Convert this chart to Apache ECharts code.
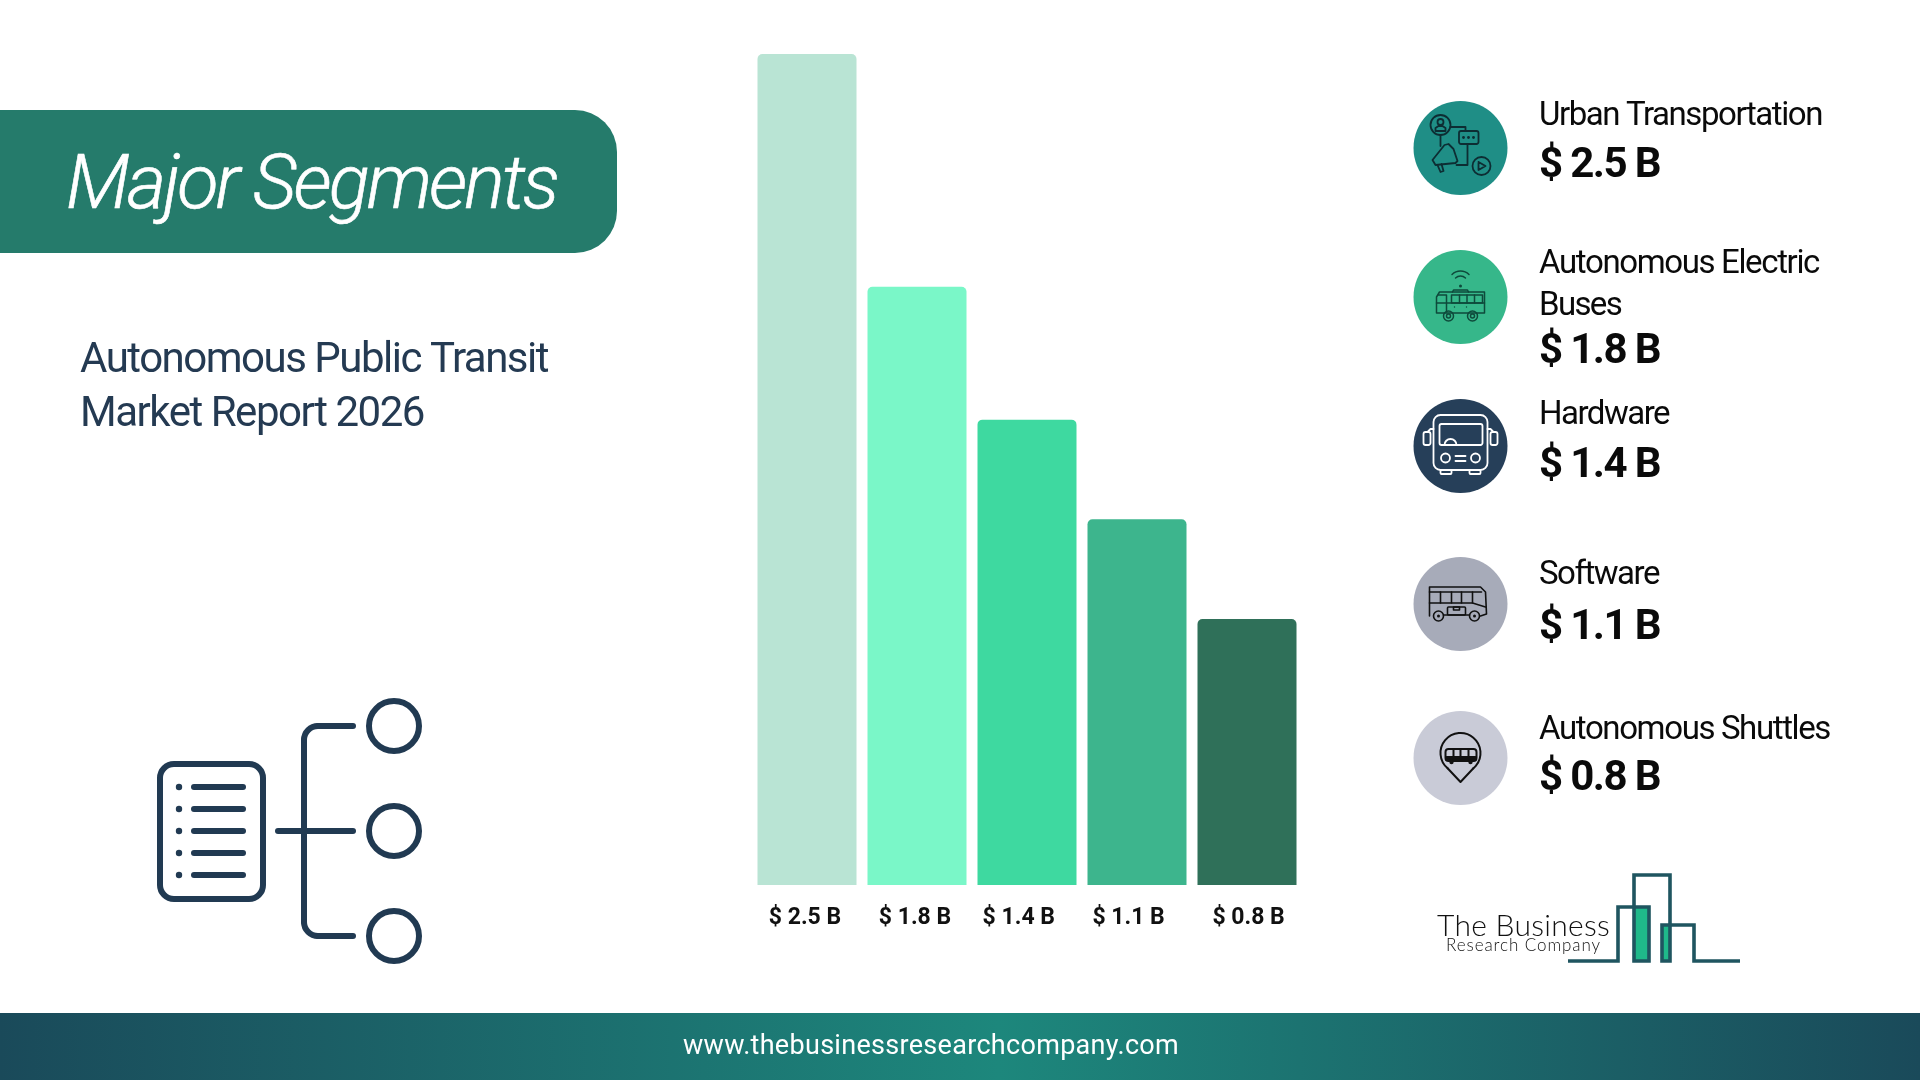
<!DOCTYPE html>
<html>
<head>
<meta charset="utf-8">
<style>html,body{margin:0;padding:0;background:#fff}#c{width:1920px;height:1080px}</style>
<script src="https://cdn.jsdelivr.net/npm/echarts@6/dist/echarts.min.js"></script>
</head>
<body>
<div id="c"></div>
<script>
const categories = ['Urban Transportation', 'Autonomous Electric Buses', 'Hardware', 'Software', 'Autonomous Shuttles'];
const values = [2.5, 1.8, 1.4, 1.1, 0.8];
const titleText = 'Major Segments';
const subtitleLines = ['Autonomous Public Transit', 'Market Report 2026'];
const footerText = 'www.thebusinessresearchcompany.com';
const logoLines = ['The Business', 'Research Company'];

const barColors = ['#B9E4D4', '#7AF7C8', '#3ED9A0', '#3DB58D', '#2F7059'];
const labelShift = [-2, -2, -8.2, -8.4, 1.6];
const circleColors = ['#1F8E86', '#36B78A', '#263F59', '#A7ABB9', '#C9CBD7'];
const circleY = [148, 297, 446, 604, 758];
const nameLayout = [
  [{ t: 'Urban Transportation', b: 124, w: 283 }],
  [{ t: 'Autonomous Electric', b: 272, w: 280 }, { t: 'Buses', b: 314, w: 82 }],
  [{ t: 'Hardware', b: 423, w: 130 }],
  [{ t: 'Software', b: 583, w: 120 }],
  [{ t: 'Autonomous Shuttles', b: 738, w: 291 }]
];
const valueBaseline = [176, 362, 476, 638, 789];

const money = v => '$ ' + v.toFixed(1) + ' B';

// tight tracking of the reference: canvas letter spacing, fitted to the measured width of each text
const mctx = document.createElement('canvas').getContext('2d');
const tracking = {};
['fillText', 'strokeText'].forEach(fn => {
  const orig = CanvasRenderingContext2D.prototype[fn];
  CanvasRenderingContext2D.prototype[fn] = function (t, x, y, m) {
    const sp = tracking[t + '|' + this.font];
    if (sp !== undefined) this.letterSpacing = sp + 'px';
    const r = m === undefined ? orig.call(this, t, x, y) : orig.call(this, t, x, y, m);
    if (sp !== undefined) this.letterSpacing = '0px';
    return r;
  };
});
function txt(text, x, baseline, sizePx, font, fill, targetW, extra) {
  mctx.font = font;
  const natural = mctx.measureText(text).width;
  tracking[text + '|' + mctx.font] = (targetW - natural) / text.length;
  return {
    type: 'text', x, y: baseline - 0.22 * sizePx, z: 10, silent: true,
    style: Object.assign({ text, x: 0, y: 0, font, fill, textAlign: 'left', verticalAlign: 'middle' }, extra || {})
  };
}
function shapes(list, stroke, lw) {
  const s = (fill) => ({ stroke: fill ? null : stroke, lineWidth: lw, fill: fill ? stroke : 'none', lineCap: 'round', lineJoin: 'round' });
  const out = [];
  list.forEach(d => {
    const k = d[0];
    if (k === 'c' || k === 'C') out.push({ type: 'circle', z: 6, silent: true, shape: { cx: d[1], cy: d[2], r: d[3] }, style: s(k === 'C') });
    if (k === 'r' || k === 'R') out.push({ type: 'rect', z: 6, silent: true, shape: { x: d[1], y: d[2], width: d[3], height: d[4], r: d[5] || 0 }, style: s(k === 'R') });
    if (k === 'l') {
      const pts = []; for (let i = 1; i < d.length; i += 2) pts.push([d[i], d[i + 1]]);
      out.push({ type: 'polyline', z: 6, silent: true, shape: { points: pts }, style: s(false) });
    }
    if (k === 'a') out.push({ type: 'arc', z: 6, silent: true, shape: { cx: d[1], cy: d[2], r: d[3], startAngle: d[4] * Math.PI / 180, endAngle: d[5] * Math.PI / 180, clockwise: true }, style: s(false) });
  });
  return out;
}
const iconDefs = [
  { stroke: '#0D2D33', lw: 1.8, items: [
    ['c', -20, -23, 10], ['c', -20, -26, 3], ['l', -25, -17, -25, -20, -22, -22, -18, -22, -15, -20, -15, -17, -25, -17],
    ['l', -10, -21, 5, -21, 5, -17], ['r', -1.5, -17, 19.5, 13, 2], ['C', 3, -10.5, 1.4], ['C', 8, -10.5, 1.4], ['C', 13, -10.5, 1.4],
    ['l', -20, -13, -20, -2], ['l', -28, 12, -16, -3, -12, -4, -7, 1, -3, 13, -5, 15, -25, 17, -28, 12],
    ['l', -23, 17, -20, 24, -17, 23, -19, 16], ['l', -4, 17, 7, 17, 7, -4],
    ['c', 21, 18, 9], ['l', 18, 14, 25, 18, 18, 22, 18, 14]
  ] },
  { stroke: '#0E4A3B', lw: 1.5, items: [
    ['a', 0, -14, 12, 225, 315], ['a', 0, -14, 7, 225, 315], ['C', 0, -11, 1.5], ['l', -8, -5, -7, -7, 7, -7, 8, -5],
    ['l', -24, 13, -24, 0, -21, -5, 24, -5, 24, 16, -24, 16, -24, 13], ['r', -9, -2, 31, 8, 0], ['l', -1, -2, -1, 6], ['l', 6.5, -2, 6.5, 6], ['l', 14, -2, 14, 6],
    ['l', -22, -2, -14, -2, -14, 15], ['l', -24, 6, 24, 6], ['C', -6, 10, 0.7], ['C', 6, 10, 0.7], ['c', -12, 19, 5], ['c', 12, 19, 5], ['c', -12, 19, 2], ['c', 12, 19, 2]
  ] },
  { stroke: '#FFFFFF', lw: 1.8, items: [
    ['r', -27, -31, 54, 55, 7], ['r', -21, -22, 43, 21, 2], ['a', -10, -1, 6, 180, 360],
    ['c', -15, 12, 4.5], ['c', 15, 12, 4.5], ['l', -5, 10, 5, 10], ['l', -5, 15, 5, 15],
    ['r', -37, -14, 7, 13, 2], ['r', 30, -14, 7, 13, 2], ['r', -20, 24, 11, 4, 1], ['r', 9, 24, 11, 4, 1],
    ['l', -27, -17, -30, -17, -33, -14], ['l', 27, -17, 30, -17, 33, -14]
  ] },
  { stroke: '#111111', lw: 1.6, items: [
    ['l', -31, 12, -31, -17, 20, -17, 25, -12, 26, 10, 20, 12], ['l', -31, -12, 21, -12], ['l', -31, -1, 12, -1, 25, 3],
    ['l', -20, -12, -20, -1], ['l', -9, -12, -9, -1], ['l', 1, -12, 1, -1], ['l', 12, -12, 12, -1],
    ['c', -22, 12, 5], ['c', 14, 12, 5], ['C', -22, 12, 1.5], ['C', 14, 12, 1.5], ['r', -13, 3, 18, 8, 1], ['r', -7, 3, 6, 3, 0],
    ['l', -17, 11, 9, 11]
  ] },
  { stroke: '#111111', lw: 2, items: [
    ['a', 0, -5, 20, 130, 410], ['l', 12.9, 10.3, 0, 24, -12.9, 10.3],
    ['r', -15, -9, 31, 12, 3], ['R', -15, -2, 31, 5, 1], ['l', -7, -9, -7, -2], ['l', 0, -9, 0, -2], ['l', 8, -9, 8, -2],
    ['C', -9, 4, 2.2], ['C', 10, 4, 2.2]
  ] }
];

const graphics = [];
// header
graphics.push({ type: 'rect', z: 1, silent: true, shape: { x: 0, y: 110, width: 617, height: 143, r: [0, 42, 42, 0] }, style: { fill: '#257B6B' } });
graphics.push(txt(titleText, 66, 205.5, 76, 'italic 300 76px Roboto', '#FFFFFF', 491, { stroke: '#FFFFFF', lineWidth: 0.6 }));
graphics.push(txt(subtitleLines[0], 80, 371, 42, '400 42px Roboto', '#243A52', 468));
graphics.push(txt(subtitleLines[1], 80, 425, 42, '400 42px Roboto', '#243A52', 344));

// left decorative icon
const leftItems = [
  ['r', 160, 764, 103, 135, 14],
  ...[787, 809, 831, 853, 875].flatMap(y => [['C', 179, y, 3.2], ['l', 194, y, 243, y]]),
  ['l', 278, 831, 353, 831], ['l', 304, 740, 304, 922], ['a', 318, 740, 14, 180, 270], ['a', 318, 922, 14, 90, 180],
  ['l', 318, 726, 353, 726], ['l', 318, 936, 353, 936],
  ['c', 394, 726, 25], ['c', 394, 831, 25], ['c', 394, 936, 25]
];
shapes(leftItems, '#213A52', 6).forEach(e => graphics.push(e));

// legend column
categories.forEach((c, i) => {
  graphics.push({ type: 'circle', z: 5, silent: true, shape: { cx: 1460.5, cy: circleY[i], r: 47 }, style: { fill: circleColors[i] } });
  graphics.push({ type: 'group', x: 1460.5, y: circleY[i], children: shapes(iconDefs[i].items, iconDefs[i].stroke, iconDefs[i].lw) });
  nameLayout[i].forEach(n => graphics.push(txt(n.t, 1539, n.b, 33, '400 33px Roboto', '#0A0A0A', n.w)));
  graphics.push(txt(money(values[i]), 1539, valueBaseline[i], 42, '700 42px Roboto', '#0A0A0A', 121));
});

// logo
const logoColor = '#1F5560';
graphics.push({ type: 'rect', z: 4, silent: true, shape: { x: 1634, y: 907, width: 15, height: 54 }, style: { fill: '#1FB98A' } });
graphics.push({ type: 'rect', z: 4, silent: true, shape: { x: 1662, y: 925, width: 8, height: 36 }, style: { fill: '#1FB98A' } });
shapes([
  ['l', 1568, 961, 1618, 961, 1618, 907, 1649, 907, 1649, 961, 1634, 961, 1634, 875, 1670, 875, 1670, 961, 1662, 961, 1662, 925, 1694, 925, 1694, 961, 1740, 961]
], logoColor, 3.6).forEach(e => { e.style.lineCap = 'butt'; e.style.lineJoin = 'miter'; graphics.push(e); });
graphics.push(txt(logoLines[0], 1437, 933, 30, '300 30px Lato', '#111111', 173));
graphics.push(txt(logoLines[1], 1446, 949.5, 17, '300 17px Lato', '#111111', 155));

// footer
graphics.push({ type: 'rect', z: 1, silent: true, shape: { x: 0, y: 1013, width: 1920, height: 67 },
  style: { fill: new echarts.graphic.LinearGradient(0, 0, 1, 0, [
    { offset: 0, color: '#1A4A5A' }, { offset: 0.52, color: '#1D877C' }, { offset: 1, color: '#1A4A5A' }]) } });
graphics.push(txt(footerText, 683, 1053, 27, '400 27px Roboto', '#FFFFFF', 496));

const rich = {};
labelShift.forEach((s, i) => {
  rich['l' + i] = { fontFamily: 'Roboto', fontWeight: 700, fontSize: 23, color: '#111111',
    padding: s < 0 ? [0, -2 * s, 0, 0] : [0, 0, 0, 2 * s] };
});

const chart = echarts.init(document.getElementById('c'), null, { renderer: 'canvas', width: 1920, height: 1080 });
chart.setOption({
  animation: false,
  backgroundColor: '#FFFFFF',
  grid: { left: 752, top: 54, width: 550, height: 831, containLabel: false },
  xAxis: {
    type: 'category', data: categories,
    axisLine: { show: false }, axisTick: { show: false },
    axisLabel: { interval: 0, margin: 22, rich, formatter: (v, i) => '{l' + i + '|' + money(values[i]) + '}' }
  },
  yAxis: { type: 'value', min: 0, max: 2.5, show: false },
  series: [{
    type: 'bar', barWidth: 99,
    data: values.map((v, i) => ({ value: v, itemStyle: { color: barColors[i], borderRadius: [5, 5, 0, 0] } }))
  }],
  graphic: { elements: graphics }
});
</script>
</body>
</html>
